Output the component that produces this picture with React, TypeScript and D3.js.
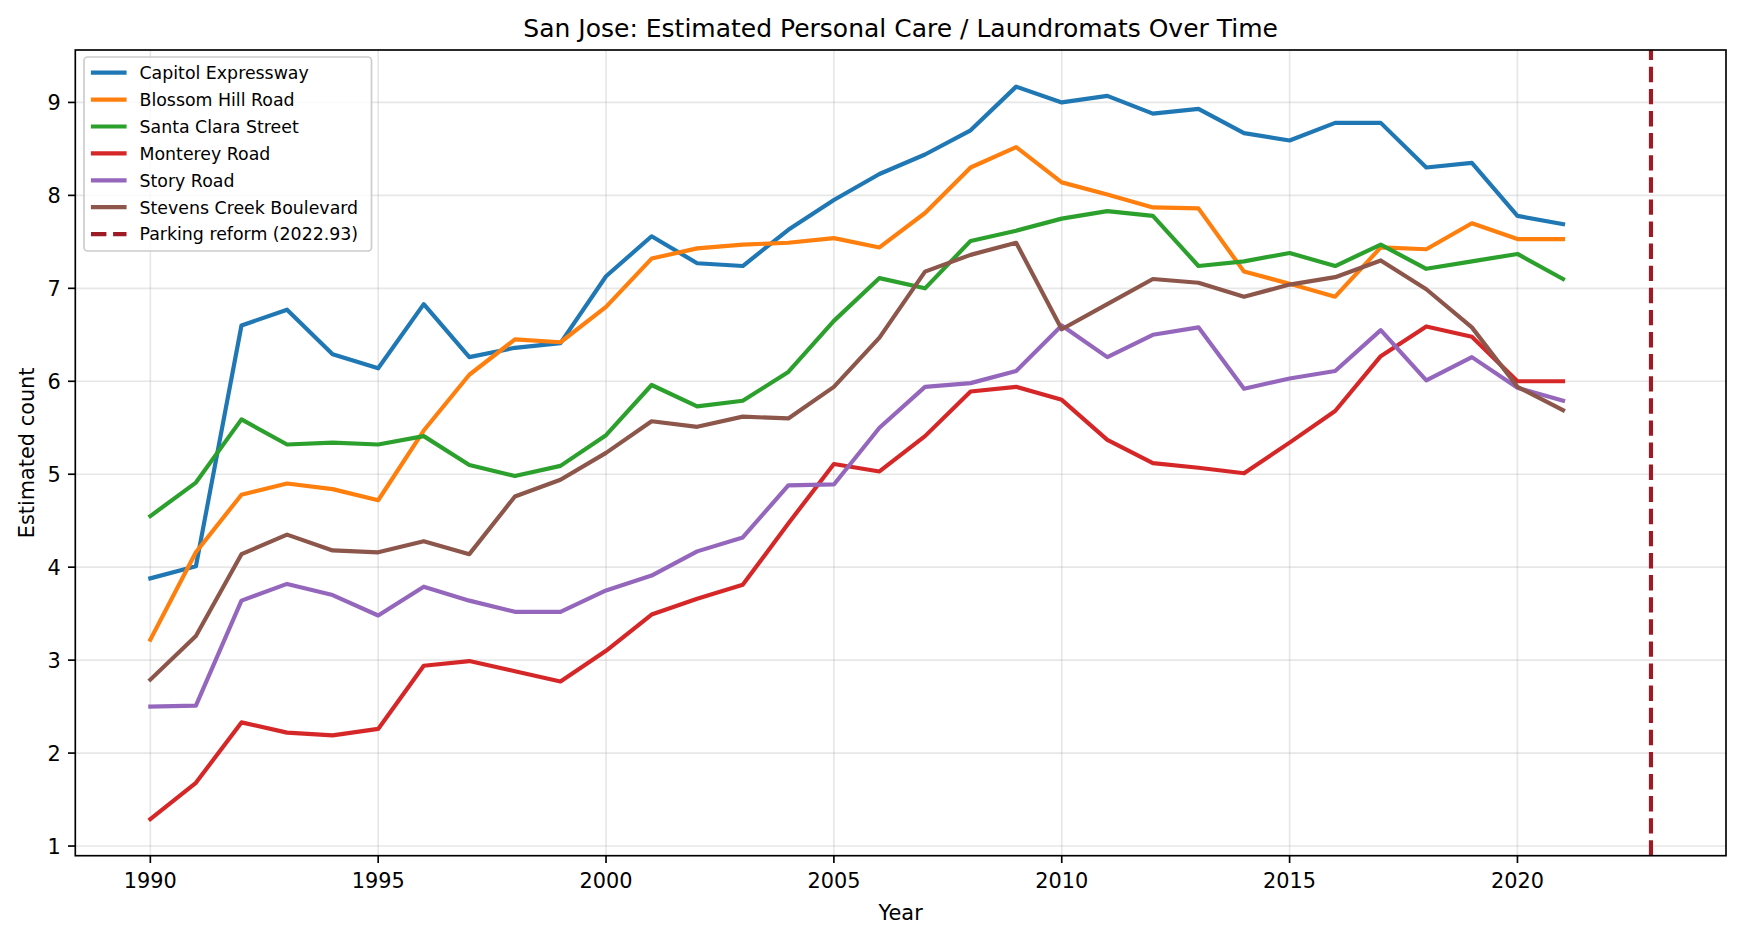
import React from "react";
import * as d3 from "d3";

const years: number[] = d3.range(1990, 2022);

const seriesNames: string[] = [
  "Capitol Expressway",
  "Blossom Hill Road",
  "Santa Clara Street",
  "Monterey Road",
  "Story Road",
  "Stevens Creek Boulevard",
];

const seriesColors: string[] = ["#1f77b4", "#ff7f0e", "#2ca02c", "#d62728", "#9467bd", "#8c564b"];

const capitolExpressway: number[] = [
  3.88, 4.01, 6.6, 6.77, 6.29, 6.14, 6.83, 6.26, 6.36, 6.41,
  7.13, 7.56, 7.27, 7.24, 7.63, 7.95, 8.23, 8.44, 8.7, 9.17,
  9.0, 9.07, 8.88, 8.93, 8.67, 8.59, 8.78, 8.78, 8.3, 8.35,
  7.78, 7.69,
];
const blossomHillRoad: number[] = [
  3.22, 4.16, 4.78, 4.9, 4.84, 4.72, 5.47, 6.07, 6.45, 6.42,
  6.8, 7.32, 7.43, 7.47, 7.49, 7.54, 7.44, 7.81, 8.3, 8.52,
  8.14, 8.01, 7.87, 7.86, 7.18, 7.05, 6.91, 7.44, 7.42, 7.7,
  7.53, 7.53,
];
const santaClaraStreet: number[] = [
  4.55, 4.91, 5.59, 5.32, 5.34, 5.32, 5.41, 5.1, 4.98, 5.09,
  5.42, 5.96, 5.73, 5.79, 6.1, 6.65, 7.11, 7.0, 7.51, 7.62,
  7.75, 7.83, 7.78, 7.24, 7.29, 7.38, 7.24, 7.47, 7.21, 7.29,
  7.37, 7.1,
];
const montereyRoad: number[] = [
  1.29, 1.68, 2.33, 2.22, 2.19, 2.26, 2.94, 2.99, 2.88, 2.77,
  3.1, 3.49, 3.66, 3.81, 4.47, 5.11, 5.03, 5.41, 5.89, 5.94,
  5.8, 5.37, 5.12, 5.07, 5.01, 5.34, 5.68, 6.27, 6.59, 6.48,
  6.0, 6.0,
];
const storyRoad: number[] = [
  2.5, 2.51, 3.64, 3.82, 3.7, 3.48, 3.79, 3.64, 3.52, 3.52,
  3.75, 3.91, 4.17, 4.32, 4.88, 4.89, 5.5, 5.94, 5.98, 6.11,
  6.6, 6.26, 6.5, 6.58, 5.92, 6.03, 6.11, 6.55, 6.01, 6.26,
  5.93, 5.79,
];
const stevensCreekBoulevard: number[] = [
  2.79, 3.26, 4.14, 4.35, 4.18, 4.16, 4.28, 4.14, 4.76, 4.94,
  5.23, 5.57, 5.51, 5.62, 5.6, 5.94, 6.47, 7.18, 7.36, 7.49,
  6.56, 6.83, 7.1, 7.06, 6.91, 7.04, 7.12, 7.3, 6.99, 6.58,
  5.94, 5.69,
];

const seriesValues: number[][] = [
  capitolExpressway,
  blossomHillRoad,
  santaClaraStreet,
  montereyRoad,
  storyRoad,
  stevensCreekBoulevard,
];

const reformYear = 2022.93;
const reformLabel = "Parking reform (2022.93)";
const reformColor = "#9e1b26";

const xTicks: number[] = [1990, 1995, 2000, 2005, 2010, 2015, 2020];
const yTicks: number[] = [1, 2, 3, 4, 5, 6, 7, 8, 9];

const titleText = "San Jose: Estimated Personal Care / Laundromats Over Time";
const xLabelText = "Year";
const yLabelText = "Estimated count";

const W = 1741;
const H = 936;
const plot = { left: 75.3, right: 1726, top: 50, bottom: 855.7 };
const FONT = "'DejaVu Sans', sans-serif";
const LW = 4.17;

export default function App() {
  const xMin = years[0];
  const xMax = reformYear;
  const xPad = (xMax - xMin) * 0.05;
  const x = d3.scaleLinear().domain([xMin - xPad, xMax + xPad]).range([plot.left, plot.right]);

  const all = seriesValues.flat();
  const yMin = d3.min(all) as number;
  const yMax = d3.max(all) as number;
  const yPad = (yMax - yMin) * 0.05;
  const y = d3.scaleLinear().domain([yMin - yPad, yMax + yPad]).range([plot.bottom, plot.top]);

  const line = d3
    .line<number>()
    .x((_, i) => x(years[i]))
    .y((d) => y(d));

  const legendItems = [
    ...seriesNames.map((n, i) => ({ name: n, color: seriesColors[i], dashed: false })),
    { name: reformLabel, color: reformColor, dashed: true },
  ];
  const legendBox = { x: 84, y: 57, w: 287.5, h: 194 };
  const rowY0 = 72.7;
  const rowStep = 26.9;

  return (
    <svg
      width={W}
      height={H}
      viewBox={`0 0 ${W} ${H}`}
      style={{ position: "absolute", left: 0, top: 0, background: "#fff" }}
      fontFamily={FONT}
    >
      <rect x={0} y={0} width={W} height={H} fill="#fff" />
      {/* grid */}
      <g stroke="#b0b0b0" strokeOpacity={0.3} strokeWidth={1.67}>
        {xTicks.map((t) => (
          <line key={"gx" + t} x1={x(t)} x2={x(t)} y1={plot.top} y2={plot.bottom} />
        ))}
        {yTicks.map((t) => (
          <line key={"gy" + t} x1={plot.left} x2={plot.right} y1={y(t)} y2={y(t)} />
        ))}
      </g>
      {/* series */}
      <g fill="none" strokeWidth={LW} strokeLinejoin="round" strokeLinecap="square">
        {seriesValues.map((vals, i) => (
          <path key={seriesNames[i]} d={line(vals) || ""} stroke={seriesColors[i]} />
        ))}
      </g>
      {/* reform line */}
      <line
        x1={x(reformYear)}
        x2={x(reformYear)}
        y1={plot.bottom}
        y2={plot.top}
        stroke={reformColor}
        strokeWidth={LW}
        strokeDasharray="15.4 6.7"
      />
      {/* spines */}
      <rect
        x={plot.left}
        y={plot.top}
        width={plot.right - plot.left}
        height={plot.bottom - plot.top}
        fill="none"
        stroke="#000"
        strokeWidth={1.67}
      />
      {/* x ticks */}
      <g>
        {xTicks.map((t) => (
          <g key={"xt" + t}>
            <line x1={x(t)} x2={x(t)} y1={plot.bottom} y2={plot.bottom + 7.3} stroke="#000" strokeWidth={1.67} />
            <text x={x(t)} y={887.5} textAnchor="middle" fontSize={20.83} fill="#000">
              {t}
            </text>
          </g>
        ))}
      </g>
      {/* y ticks */}
      <g>
        {yTicks.map((t) => (
          <g key={"yt" + t}>
            <line x1={plot.left - 7.3} x2={plot.left} y1={y(t)} y2={y(t)} stroke="#000" strokeWidth={1.67} />
            <text x={plot.left - 14.6} y={y(t) + 7.6} textAnchor="end" fontSize={20.83} fill="#000">
              {t}
            </text>
          </g>
        ))}
      </g>
      {/* labels */}
      <text x={(plot.left + plot.right) / 2} y={36.5} textAnchor="middle" fontSize={25} fill="#000">
        {titleText}
      </text>
      <text x={(plot.left + plot.right) / 2} y={920} textAnchor="middle" fontSize={20.83} fill="#000">
        {xLabelText}
      </text>
      <text
        transform={`translate(34, ${(plot.top + plot.bottom) / 2}) rotate(-90)`}
        textAnchor="middle"
        fontSize={20.83}
        fill="#000"
      >
        {yLabelText}
      </text>
      {/* legend */}
      <g>
        <rect
          x={legendBox.x}
          y={legendBox.y}
          width={legendBox.w}
          height={legendBox.h}
          rx={3.5}
          ry={3.5}
          fill="#fff"
          fillOpacity={0.8}
          stroke="#cccccc"
          strokeWidth={1.67}
        />
        {legendItems.map((it, i) => {
          const ry = rowY0 + i * rowStep;
          return (
            <g key={"lg" + i}>
              <line
                x1={it.dashed ? 91 : 93}
                x2={it.dashed ? 126.5 : 124.5}
                y1={ry}
                y2={ry}
                stroke={it.color}
                strokeWidth={LW}
                strokeLinecap={it.dashed ? "butt" : "square"}
                strokeDasharray={it.dashed ? "15.4 6.7" : undefined}
              />
              <text x={139.5} y={ry + 6.3} fontSize={17.36} fill="#000">
                {it.name}
              </text>
            </g>
          );
        })}
      </g>
    </svg>
  );
}
